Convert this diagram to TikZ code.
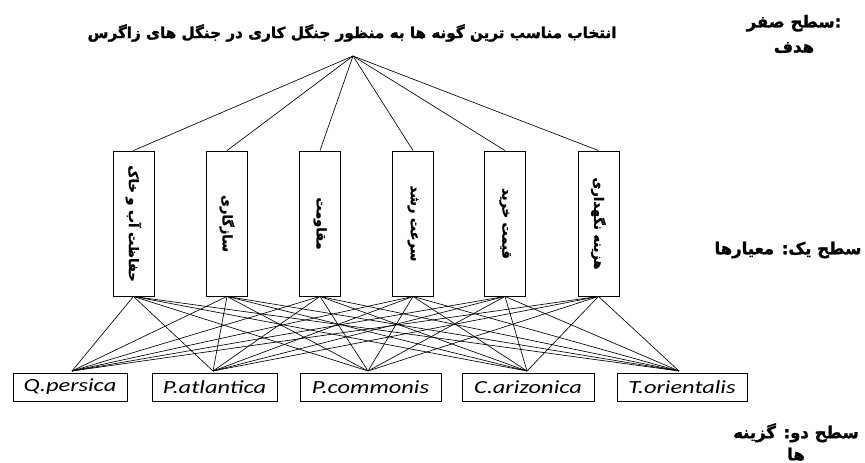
\documentclass[tikz,border=0pt]{standalone}
\usepackage{fontspec}
\usepackage{graphicx}
\setsansfont{Carlito}
\newfontfamily\fa[Script=Arabic, BoldFont={DejaVu Sans Bold}, BoldFeatures={FakeBold=1.5}]{DejaVu Sans}
\TeXXeTstate=1
\newcommand\alttext[1]{\scalebox{1.32}[1]{\sffamily\itshape\fontsize{18.5}{20}\selectfont #1}}
\begin{document}
\begin{tikzpicture}[x=1pt,y=-1pt,
 crit/.style={draw, line width=0.9pt, minimum width=41pt, minimum height=145pt, inner sep=0pt},
 alt/.style={draw, line width=0.9pt, minimum height=28pt, inner sep=0pt},
 conn/.style={line width=0.65pt},
 ctext/.style={rotate=-90, inner sep=0pt, font=\fa\bfseries\fontsize{13}{15}\selectfont},
 lbl/.style={align=center, inner sep=0pt, font=\fa\bfseries\fontsize{16.5}{25}\selectfont}]
\useasboundingbox (0,0) rectangle (865,463);
\fill[white] (0,0) rectangle (865,463);
% title
\node[inner sep=0pt, font=\fa\bfseries\fontsize{15.2}{17}\selectfont] (title) at (352,33) {\beginR انتخاب مناسب ترین گونه ها به منظور جنگل کاری در جنگل های زاگرس\endR};
\coordinate (apex) at (353,56);
% criteria
\node[crit] (c1) at (133.5,223.5) {};
\node[crit] (c2) at (227,223.5) {};
\node[crit] (c3) at (320,223.5) {};
\node[crit] (c4) at (413,223.5) {};
\node[crit] (c5) at (505,223.5) {};
\node[crit] (c6) at (598.5,223.5) {};
\node[ctext] (t1) at (c1) {\beginR حفاظت آب و خاک\endR};
\node[ctext] (t2) at (c2) {\beginR سازگاری\endR};
\node[ctext] (t3) at (c3) {\beginR مقاومت\endR};
\node[ctext] (t4) at (c4) {\beginR سرعت رشد\endR};
\node[ctext] (t5) at (c5) {\beginR قیمت خرید\endR};
\node[ctext] (t6) at (c6) {\beginR هزینه نگهداری\endR};
% alternatives
\node[alt, minimum width=114pt] (a1) at (70,387) {\alttext{Q.persica}};
\node[alt, minimum width=125pt] (a2) at (214.5,387) {\alttext{P.atlantica}};
\node[alt, minimum width=141pt] (a3) at (370.5,387) {\alttext{P.commonis}};
\node[alt, minimum width=132pt] (a4) at (528,387) {\alttext{C.arizonica}};
\node[alt, minimum width=130pt] (a5) at (682,387) {\alttext{T.orientalis}};
\coordinate (p1) at (72,371);
\coordinate (p2) at (213,371);
\coordinate (p3) at (368,371);
\coordinate (p4) at (527,371);
\coordinate (p5) at (679,371);
% connectors
\foreach \i in {1,...,6} {\draw[conn] (apex) -- (c\i.north);}
\foreach \i in {1,...,6} {\foreach \j in {1,...,5} {\draw[conn] (c\i.south) -- (p\j);}}
% level labels
\node[lbl] (l0) at (794,34) {\beginR سطح صفر\endR:\\\beginR هدف\endR};
\node[lbl] (l1) at (788,250) {\beginR سطح یک: معیارها\endR};
\node[lbl, font=\fa\bfseries\fontsize{16.5}{22}\selectfont] (l2) at (796,442) {\beginR سطح دو: گزینه\endR\\\beginR ها\endR};
\end{tikzpicture}
\end{document}
